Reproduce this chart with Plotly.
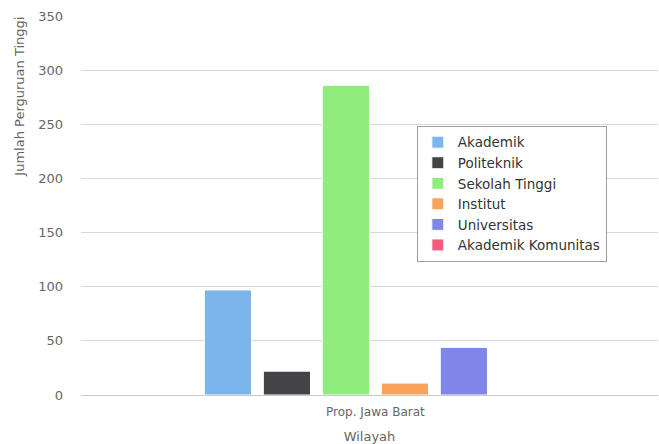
import plotly.graph_objects as go

categories = ["Prop. Jawa Barat"]
series_names = ["Akademik", "Politeknik", "Sekolah Tinggi", "Institut", "Universitas", "Akademik Komunitas"]
series_values = [97, 22, 286, 11, 44, 0]
series_colors = ["#7cb5ec", "#434348", "#90ed7d", "#f7a35c", "#8085e9", "#f15c80"]
y_ticks = [0, 50, 100, 150, 200, 250, 300, 350]

FONT = "DejaVu Sans"

fig = go.Figure()
for name, val, col in zip(series_names, series_values, series_colors):
    fig.add_trace(go.Bar(
        x=categories, y=[val], name=name,
        marker=dict(color=col, line=dict(color="white", width=1)),
    ))

fig.update_layout(
    width=659, height=444,
    margin=dict(l=81, r=1, t=16, b=49),
    paper_bgcolor="white", plot_bgcolor="white",
    barmode="group", bargap=0.399, bargroupgap=0.2,
    font=dict(family=FONT, size=12, color="#666666"),
    showlegend=True,
    legend=dict(
        x=0.582, y=0.71, xanchor="left", yanchor="top",
        bgcolor="white", bordercolor="#a0a0a0", borderwidth=1,
        font=dict(family=FONT, size=13.5, color="#333333"),
        tracegroupgap=0, itemwidth=30,
    ),
    xaxis=dict(
        range=[-0.5, 0.48], showgrid=False, zeroline=False,
        showline=False, ticks="", ticklabelstandoff=8,
        tickfont=dict(size=12, color="#666666"),
        title=dict(text="Wilayah", font=dict(size=13, color="#666666"), standoff=13),
    ),
    yaxis=dict(
        range=[0, 350], tickvals=y_ticks, showgrid=True, gridcolor="#d8d8d8",
        gridwidth=1, zeroline=True, zerolinecolor="#c8c8c8", zerolinewidth=1,
        showline=False, ticks="", ticklabelstandoff=17,
        tickfont=dict(size=13, color="#666666"),
    ),
    annotations=[dict(
        text="Jumlah Perguruan Tinggi", textangle=-90,
        xref="paper", yref="paper", x=-0.108, y=(395 - 97) / 379,
        xanchor="center", yanchor="middle", showarrow=False,
        font=dict(family=FONT, size=13, color="#666666"),
    )],
)

fig.write_html("out.html")
